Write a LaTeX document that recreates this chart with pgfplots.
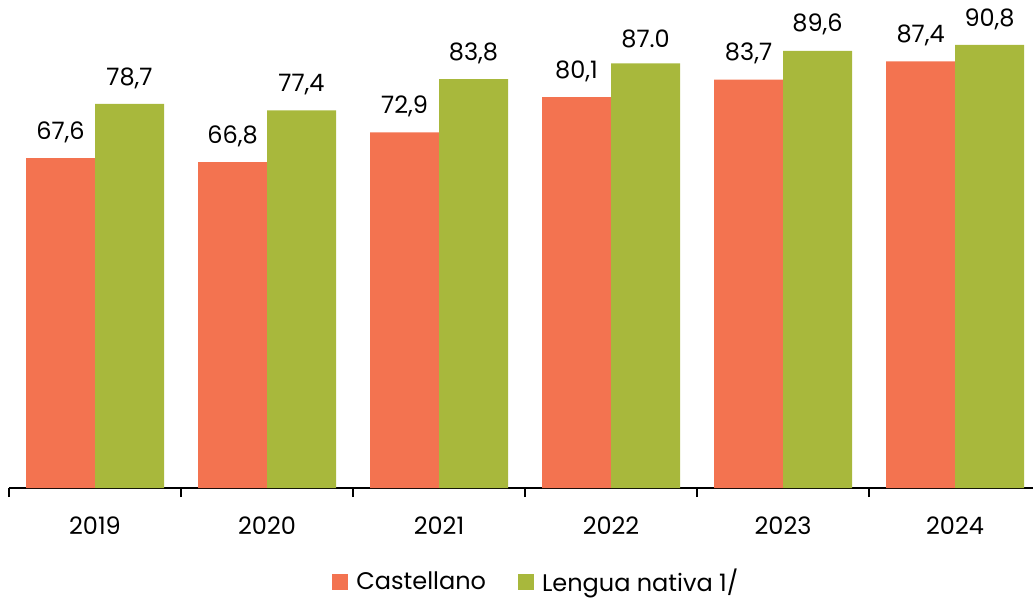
\documentclass[border=0pt]{standalone}
\usepackage{pgfplots}
\usepackage{pgfplotstable}
\pgfplotsset{compat=1.18}
\usepackage{fontspec}
\setmainfont{Poppins}
\definecolor{cast}{RGB}{243,115,80}
\definecolor{lengua}{RGB}{168,184,60}
\pgfplotstableread{
x cas caslab len lenlab
0 67.6 {67,6} 78.7 {78,7}
1 66.8 {66,8} 77.4 {77,4}
2 72.9 {72,9} 83.8 {83,8}
3 80.1 {80,1} 87.0 {87.0}
4 83.7 {83,7} 89.6 {89,6}
5 87.4 {87,4} 90.8 {90,8}
}\datos
\begin{document}
\begin{tikzpicture}
\begin{axis}[
    name=ax,
    scale only axis,
    width=512pt, height=244pt,
    ybar=0pt, bar width=34.5pt,
    xmin=-0.5, xmax=5.453,
    ymin=0, ymax=100,
    axis x line=bottom, axis y line=none,
    axis line style={-, black, line width=0.7pt},
    xtick={0,...,5},
    xticklabels={2019,2020,2021,2022,2023,2024},
    major tick length=0pt,
    xticklabel style={font=\fontsize{12}{14}\selectfont, yshift=-11pt},
    extra x ticks={-0.5,0.5,1.5,2.5,3.5,4.5},
    extra x tick labels={},
    extra x tick style={major tick length=4.5pt, tick align=outside, tick style={black, line width=0.7pt}},
    /pgf/number format/assume math mode=true,
    nodes near coords={\pgfplotspointmeta},
    point meta=explicit symbolic,
    every node near coord/.append style={font=\fontsize{12}{14}\selectfont, anchor=south, inner sep=0pt, yshift=7.5pt},
    legend style={at={(0.516,-0.193)}, anchor=center, draw=none, legend columns=2,
        font=\fontsize{12}{14}\selectfont,
        /tikz/every odd column/.append style={column sep=2pt},
        /tikz/every even column/.append style={column sep=14pt}},
    legend image code/.code={\fill[#1] (0pt,-4pt) rectangle (8pt,4pt);},
]
\addplot[fill=cast, draw=none] table[x=x, y=cas, meta=caslab] {\datos};
\addplot[fill=lengua, draw=none] table[x=x, y=len, meta=lenlab] {\datos};
\legend{Castellano, Lengua nativa 1/}
\end{axis}
\pgfresetboundingbox
\path[use as bounding box] ([shift={(-4.5pt,-56.5pt)}]ax.south west) rectangle (ax.north east);
\end{tikzpicture}
\end{document}
